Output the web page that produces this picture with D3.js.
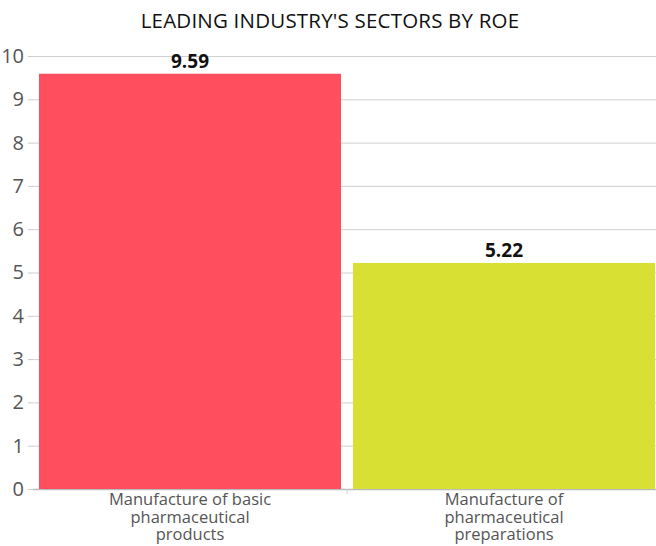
<!DOCTYPE html>
<meta charset="utf-8">
<style>
body { margin: 0; background: #fff; }
svg text { font-family: "Open Sans", sans-serif; }
.title { font-size: 20.5px; fill: #111; text-anchor: middle; letter-spacing: 0.2px; }
.yaxis text { font-size: 20px; fill: #555; }
.xlab { font-size: 16.5px; fill: #555; text-anchor: middle; }
.val { font-size: 19px; font-weight: bold; fill: #111; text-anchor: middle; }
</style>
<svg width="656" height="546"></svg>
<script src="https://d3js.org/d3.v7.min.js"></script>
<script>
const categories = ["Manufacture of basic pharmaceutical products", "Manufacture of pharmaceutical preparations"];
const labelLines = [["Manufacture of basic", "pharmaceutical", "products"], ["Manufacture of", "pharmaceutical", "preparations"]];
const roe = [9.59, 5.22];
const colors = ["#ff4f5e", "#d8e034"];
const yTicks = [0, 1, 2, 3, 4, 5, 6, 7, 8, 9, 10];

const svg = d3.select("svg");
const mLeft = 33, mRight = 661, mTop = 56, mBottom = 489;

const x = d3.scaleBand().domain(categories).range([mLeft, mRight]).paddingInner(0.038).paddingOuter(0.019);
const y = d3.scaleLinear().domain([0, 10]).range([mBottom, mTop]);

svg.append("text").attr("class", "title").attr("x", 330).attr("y", 28)
  .text("LEADING INDUSTRY'S SECTORS BY ROE");

// grid + y labels
const yAxis = svg.append("g").attr("class", "yaxis")
  .attr("transform", "translate(" + mLeft + ",0)")
  .call(d3.axisLeft(y).tickValues(yTicks).tickSize(5).tickPadding(4));
yAxis.select(".domain").remove();
yAxis.selectAll(".tick line").attr("stroke", "#ccc");
yAxis.selectAll(".tick").append("line")
  .attr("x1", 0).attr("x2", 656 - mLeft)
  .attr("stroke", d => d === 0 ? "#bbb" : "#d0d0d0")
  .attr("stroke-width", d => d === 0 ? 1.5 : 1);

// category ticks
svg.append("g").selectAll("line").data(categories).enter().append("line")
  .attr("x1", d => x(d) - x.step() * 0.019 + x.step()).attr("x2", d => x(d) - x.step() * 0.019 + x.step())
  .attr("y1", mBottom).attr("y2", mBottom + 5).attr("stroke", "#ccc");

svg.append("g").selectAll("rect").data(roe).enter().append("rect")
  .attr("x", (d, i) => x(categories[i]))
  .attr("width", x.bandwidth())
  .attr("y", d => y(d))
  .attr("height", d => y(0) - y(d))
  .attr("fill", (d, i) => colors[i]);

svg.append("g").selectAll("text").data(roe).enter().append("text")
  .attr("class", "val")
  .attr("x", (d, i) => x(categories[i]) + x.bandwidth() / 2)
  .attr("y", d => y(d) - 6)
  .text(d => d.toFixed(2));

categories.forEach((c, i) => {
  const t = svg.append("text").attr("class", "xlab")
    .attr("x", x(c) + x.bandwidth() / 2).attr("y", 505);
  labelLines[i].forEach((ln, j) => {
    t.append("tspan").attr("x", x(c) + x.bandwidth() / 2).attr("dy", j ? 17.5 : 0).text(ln);
  });
});
</script>
